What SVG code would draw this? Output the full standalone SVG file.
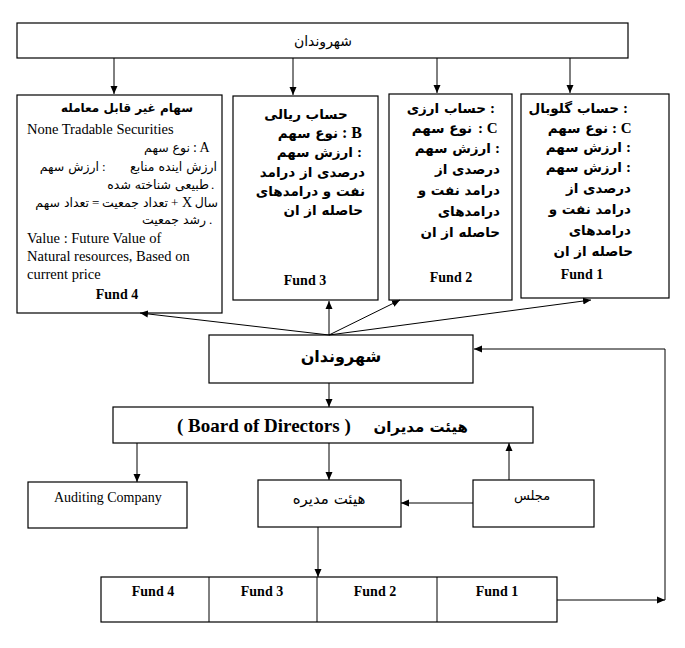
<svg xmlns="http://www.w3.org/2000/svg" width="685" height="648" viewBox="0 0 685 648">
<defs>
<marker id="ah" markerWidth="9" markerHeight="8" refX="8" refY="4" orient="auto" markerUnits="userSpaceOnUse">
<path d="M0,0.5 L8,4 L0,7.5 z" fill="#000"/>
</marker>
<style>
.box{fill:#fff;stroke:#000;stroke-width:1.2}
.ln{stroke:#000;stroke-width:1;fill:none;marker-end:url(#ah)}
.pl{stroke:#000;stroke-width:1;fill:none}
.fa{font-family:"DejaVu Sans",sans-serif;fill:#000}
.en{font-family:"Liberation Serif","Times New Roman",serif;fill:#000}
.b{font-weight:bold}
.e{text-anchor:end}
.m{text-anchor:middle}
.s{font-size:12.5px}
.f{font-size:13.5px;font-weight:bold}
</style>
</defs>
<rect width="685" height="648" fill="#fff"/>

<g id="citizens-top">
<rect class="box" x="17" y="23" width="611" height="35"/>
<text class="fa m" x="323" y="46" font-size="14">شهروندان</text>
</g>

<g id="fund4">
<rect class="box" x="17" y="95" width="205" height="218"/>
<text class="fa m b" x="127" y="112" font-size="12">سهام غیر قابل معامله</text>
<text class="en" x="27" y="134" font-size="14.5">None Tradable Securities</text>
<text class="fa e s" x="190" y="152">نوع سهم</text>
<text class="en" x="193" y="152" font-size="14">: A</text>
<text class="fa e s" x="99" y="171">ارزش سهم</text>
<text class="en" x="102" y="171" font-size="13">:</text>
<text class="fa e s" x="217" y="171">ارزش اینده منابع</text>
<text class="fa e s" x="209" y="189">طبیعی شناخته شده</text>
<text class="en" x="211" y="189" font-size="13">.</text>
<text class="fa e s" x="89" y="207">تعداد سهم</text>
<text class="en" x="92" y="207" font-size="13">=</text>
<text class="fa e s" x="168" y="207">تعداد جمعیت</text>
<text class="en" x="171" y="207" font-size="13">+</text>
<text class="en" x="182" y="207" font-size="14">X</text>
<text class="fa e s" x="218" y="207">سال</text>
<text class="fa e s" x="206" y="224">رشد جمعیت</text>
<text class="en" x="209" y="224" font-size="13">.</text>
<text class="en" x="27" y="243" font-size="14.5">Value : Future Value of</text>
<text class="en" x="27" y="261" font-size="14.5">Natural resources, Based on</text>
<text class="en" x="27" y="279" font-size="14.5">current price</text>
<text class="en m b" x="117" y="299" font-size="14">Fund 4</text>
</g>

<g id="fund3">
<rect class="box" x="233" y="96" width="145" height="204"/>
<text class="fa m f" x="306" y="119">حساب ریالی</text>
<text class="fa e f" x="338" y="138">نوع سهم</text>
<text class="en b" x="342" y="138" font-size="16">: B</text>
<text class="fa e f" x="353" y="157">ارزش سهم</text>
<text class="en b" x="357" y="157" font-size="15">:</text>
<text class="fa e f" x="365" y="177">درصدی از درامد</text>
<text class="fa e f" x="365" y="196">نفت و درامدهای</text>
<text class="fa e f" x="363" y="215">حاصله از ان</text>
<text class="en m b" x="305" y="285" font-size="14">Fund 3</text>
</g>

<g id="fund2">
<rect class="box" x="389" y="94" width="123" height="206"/>
<text class="fa e f" x="486" y="113">حساب ارزی</text>
<text class="en b" x="490" y="113" font-size="15">:</text>
<text class="fa e f" x="472" y="133">نوع سهم</text>
<text class="en b" x="478" y="133" font-size="15">:  C</text>
<text class="fa e f" x="491" y="153">ارزش سهم</text>
<text class="en b" x="495" y="153" font-size="15">:</text>
<text class="fa e f" x="500" y="174">درصدی از</text>
<text class="fa e f" x="500" y="195">درامد نفت و</text>
<text class="fa e f" x="500" y="216">درامدهای</text>
<text class="fa e f" x="500" y="237">حاصله از ان</text>
<text class="en m b" x="451" y="282" font-size="14">Fund 2</text>
</g>

<g id="fund1">
<rect class="box" x="521" y="94" width="148" height="204"/>
<text class="fa e f" x="619" y="113">حساب گلوبال</text>
<text class="en b" x="623" y="113" font-size="15">:</text>
<text class="fa e f" x="608" y="133">نوع سهم</text>
<text class="en b" x="612" y="133" font-size="15">: C</text>
<text class="fa e f" x="622" y="152">ارزش سهم</text>
<text class="en b" x="626" y="152" font-size="15">:</text>
<text class="fa e f" x="622" y="172">ارزش سهم</text>
<text class="en b" x="626" y="172" font-size="15">:</text>
<text class="fa e f" x="631" y="193">درصدی از</text>
<text class="fa e f" x="631" y="214">درامد نفت و</text>
<text class="fa e f" x="631" y="235">درامدهای</text>
<text class="fa e f" x="633" y="256">حاصله از ان</text>
<text class="en m b" x="582" y="279" font-size="14">Fund 1</text>
</g>

<g id="citizens-mid">
<rect class="box" x="209" y="335" width="264" height="48"/>
<text class="fa m b" x="341" y="362" font-size="16">شهروندان</text>
</g>

<g id="board">
<rect class="box" x="113" y="407" width="420" height="36"/>
<text class="en b" x="177" y="432" font-size="19">( Board of Directors )</text>
<text class="fa e b" x="468" y="432" font-size="15">هیئت  مدیران</text>
</g>

<g id="auditing">
<rect class="box" x="28" y="482" width="159" height="46"/>
<text class="en" x="54" y="502" font-size="14">Auditing Company</text>
</g>

<g id="managing-board">
<rect class="box" x="258" y="480" width="143" height="47"/>
<text class="fa m" x="329" y="504" font-size="15">هیئت مدیره</text>
</g>

<g id="parliament">
<rect class="box" x="473" y="480" width="121" height="47"/>
<text class="fa m" x="532" y="500" font-size="13">مجلس</text>
</g>

<g id="funds-row">
<rect class="box" x="101" y="577" width="456" height="45"/>
<line class="pl" x1="209" y1="577" x2="209" y2="622"/>
<line class="pl" x1="317" y1="577" x2="317" y2="622"/>
<line class="pl" x1="437" y1="577" x2="437" y2="622"/>
<text class="en m b" x="153" y="596" font-size="14">Fund 4</text>
<text class="en m b" x="262" y="596" font-size="14">Fund 3</text>
<text class="en m b" x="375" y="596" font-size="14">Fund 2</text>
<text class="en m b" x="497" y="596" font-size="14">Fund 1</text>
</g>

<g id="connectors">
<line class="ln" x1="114" y1="58" x2="114" y2="94"/>
<line class="ln" x1="293" y1="58" x2="293" y2="95"/>
<line class="ln" x1="437" y1="58" x2="437" y2="93"/>
<line class="ln" x1="570" y1="58" x2="570" y2="93"/>
<line class="ln" x1="329" y1="335" x2="329" y2="301"/>
<line class="ln" x1="329" y1="335" x2="140" y2="313"/>
<line class="ln" x1="329" y1="335" x2="400" y2="300"/>
<line class="ln" x1="329" y1="335" x2="591" y2="300"/>
<line class="ln" x1="329" y1="383" x2="329" y2="407"/>
<line class="ln" x1="137" y1="443" x2="137" y2="482"/>
<line class="ln" x1="329" y1="443" x2="329" y2="480"/>
<line class="ln" x1="509" y1="480" x2="509" y2="443"/>
<line class="ln" x1="473" y1="503" x2="401" y2="503"/>
<line class="ln" x1="318" y1="527" x2="318" y2="577"/>
<line class="ln" x1="557" y1="600" x2="665" y2="600"/>
<polyline class="ln" points="665,600 665,349 474,349"/>
</g>
</svg>
